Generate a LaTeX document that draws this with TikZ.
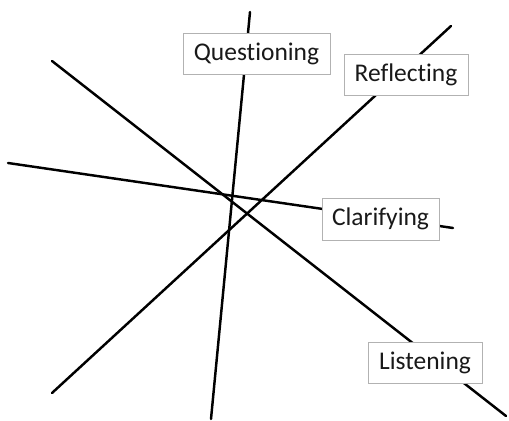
\documentclass[tikz,border=0pt]{standalone}
\usepackage{fontspec}
\setmainfont[Ligatures={NoCommon}]{Carlito}
\begin{document}
\begin{tikzpicture}[x=0.02cm, y=-0.02cm,
    skill/.style={draw=black!30, fill=white, line width=0.5pt, inner sep=0pt,
                  font=\fontsize{14.5}{16}\selectfont, text=black!90},
    ray/.style={line width=1.4pt, line cap=round}]

                \useasboundingbox (0,0) rectangle (509,421);

                \coordinate (q1) at (250,12);
                \coordinate (q2) at (211,419);
                \coordinate (r1) at (451,26);
                \coordinate (r2) at (52,393);
                \coordinate (c1) at (8,163);
                \coordinate (c2) at (453,228);
                \coordinate (l1) at (52,61);
                \coordinate (l2) at (506,416);

                \draw[ray] (q1) -- (q2);
                \draw[ray] (r1) -- (r2);
                \draw[ray] (c1) -- (c2);
                \draw[ray] (l1) -- (l2);

                \node[skill, minimum width=147*0.02cm, minimum height=41*0.02cm] (Q) at (256.5,53.5) {Questioning};
                \node[skill, minimum width=124*0.02cm, minimum height=41*0.02cm] (R) at (406,74.5) {Reflecting};
                \node[skill, minimum width=117*0.02cm, minimum height=42*0.02cm] (C) at (380.5,219) {Clarifying};
                \node[skill, minimum width=114*0.02cm, minimum height=41*0.02cm] (L) at (425,362.5) {Listening};

            \end{tikzpicture}
\end{document}
